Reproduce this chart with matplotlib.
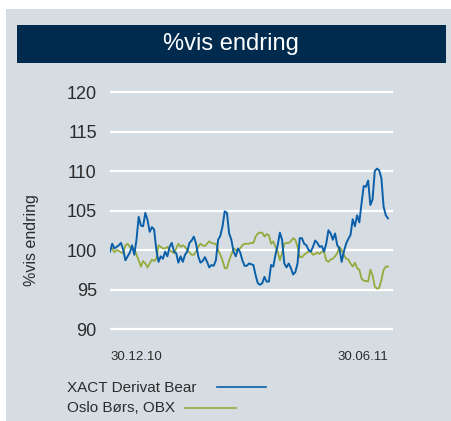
import matplotlib
matplotlib.use("Agg")
import matplotlib.pyplot as plt
from matplotlib.lines import Line2D
from matplotlib.patches import Rectangle

plt.rcParams['font.family'] = ['Liberation Sans', 'DejaVu Sans']

title = "%vis endring"
ylabel = "%vis endring"
series_names = ["XACT Derivat Bear", "Oslo Børs, OBX"]
x_labels = ["30.12.10", "30.06.11"]
y_ticks = [90, 95, 100, 105, 110, 115, 120]

bear = [99.8, 100.8, 100.2, 100.4, 100.6, 100.9, 100.0, 98.7, 99.2, 99.7,
        100.6, 99.4, 101.3, 104.2, 103.1, 103.0, 104.7, 103.8, 102.3, 102.9,
        102.6, 100.0, 98.5, 99.2, 98.9, 99.8, 99.2, 100.4, 100.9, 99.8,
        99.6, 98.4, 99.2, 98.5, 99.4, 99.8, 100.9, 101.2, 101.7, 100.8,
        99.2, 98.4, 98.6, 99.1, 98.5, 97.8, 98.1, 98.0, 98.7, 101.3,
        101.8, 103.0, 104.9, 104.7,
        102.1, 101.3, 99.8, 99.2, 100.2, 99.7, 98.7, 98.0, 98.0, 98.3,
        98.2, 98.1, 96.8, 95.8, 95.6, 95.8, 96.6, 96.0, 96.0, 98.1,
        97.9, 99.4, 100.6, 102.2, 101.3, 98.3, 97.8, 98.3, 97.7, 96.9,
        97.2, 98.3, 101.5, 101.5, 100.8, 100.6, 100.0, 99.8, 100.4, 101.2,
        100.9, 100.4, 100.5, 99.8, 100.8, 102.5, 102.1, 101.3, 102.1, 100.6,
        100.2, 98.5, 99.8, 100.8, 101.4, 101.9, 103.9, 103.0, 104.4, 103.5,
        105.9, 108.1, 108.0, 108.8, 105.7, 106.4, 110.0, 110.3, 110.1, 109.1,
        105.5, 104.4, 104.0]

obx = [100.0, 100.2, 99.7, 100.0, 99.9, 99.7, 99.6, 100.6, 100.8, 100.4,
       100.1, 100.2, 99.4, 98.7, 97.9, 98.6, 98.3, 97.8, 98.3, 98.8,
       98.6, 98.9, 100.6, 100.4, 100.2, 100.2, 100.4, 100.0, 99.8, 99.6,
       100.2, 100.8, 100.4, 100.6, 100.4, 100.0, 99.7, 99.4, 99.4, 99.8,
       100.4, 100.8, 100.6, 100.5, 100.8, 101.1, 100.9, 100.8, 100.8, 100.0,
       99.4, 98.7, 97.7, 97.7,
       98.7, 99.4, 100.2, 100.0, 100.0, 100.2, 100.6, 100.8, 100.8, 100.8,
       100.9, 100.9, 101.7, 102.1, 102.2, 102.2, 101.7, 102.0, 101.9, 100.8,
       101.1, 100.4, 99.8, 98.7, 99.6, 100.8, 100.9, 100.9, 101.1, 101.5,
       101.3, 100.4, 99.1, 99.1, 99.4, 99.6, 99.8, 99.8, 99.4, 99.5,
       99.7, 99.5, 99.8, 99.8, 98.7, 98.5, 98.8, 98.9, 99.2, 99.6,
       100.4, 100.0, 99.4, 98.9, 98.8, 98.3, 97.9, 98.4, 97.7, 97.5,
       96.4, 96.1, 96.1, 96.0, 97.5, 96.8, 95.4, 95.1, 95.2, 96.2,
       97.5, 97.9, 97.9]

blue = "#0a5fa8"
green = "#94aa3c"
panel = "#d5dde3"
navy = "#002b4f"
txt = "#2b2b2b"

W, H = 452, 421
fig = plt.figure(figsize=(W / 100, H / 100), dpi=100)
fig.patch.set_facecolor("white")

def fx(px):
    return px / W

def fy(py):
    return 1 - py / H

# grey panel
fig.patches.append(Rectangle((fx(6), 0), fx(452) - fx(6), fy(9), transform=fig.transFigure,
                             facecolor=panel, edgecolor="none", zorder=-2))
# title bar
fig.patches.append(Rectangle((fx(17), fy(63)), fx(446) - fx(17), fy(25) - fy(63),
                             transform=fig.transFigure, facecolor=navy, edgecolor="none", zorder=-1))
fig.text(fx(231), fy(44), title, color="white", fontsize=17, ha="center", va="center", zorder=2)

ax = fig.add_axes([fx(110), fy(340), fx(393) - fx(110), fy(85) - fy(340)])
ax.set_zorder(3)
ax.set_facecolor("none")
n = len(bear)
xs = list(range(n))
ax.plot(xs, obx, color=green, lw=1.3, zorder=3)
ax.plot(xs, bear, color=blue, lw=1.4, zorder=4)

ax.set_xlim(0, (n - 1) * 283 / 278)
ax.set_ylim(88.61, 120.89)
ax.set_yticks(y_ticks)
ax.set_yticklabels([str(v) for v in y_ticks])
ax.grid(axis="y", color="white", lw=1.6)
ax.set_axisbelow(True)
for s in ax.spines.values():
    s.set_visible(False)
ax.tick_params(axis="y", length=0, pad=9.5, labelsize=13, labelcolor=txt)
ax.set_xticks([0, n - 1])
ax.set_xticklabels(x_labels)
ax.tick_params(axis="x", length=0, pad=8, labelsize=9.5, labelcolor=txt)
lbls = ax.get_xticklabels()
lbls[0].set_ha("left")
lbls[1].set_ha("right")

fig.text(fx(32), fy(240), ylabel, rotation=90, fontsize=11.5, color=txt, ha="center", va="center")

# legend
fig.text(fx(67), fy(388), series_names[0], fontsize=11, color=txt, ha="left", va="center")
fig.text(fx(67), fy(408), series_names[1], fontsize=11, color=txt, ha="left", va="center")
fig.lines.append(Line2D([fx(217), fx(266)], [fy(387), fy(387)], transform=fig.transFigure, color=blue, lw=1.2))
fig.lines.append(Line2D([fx(185), fx(236)], [fy(408), fy(408)], transform=fig.transFigure, color=green, lw=1.2))

fig.savefig("out.png", dpi=100, facecolor=fig.get_facecolor())
